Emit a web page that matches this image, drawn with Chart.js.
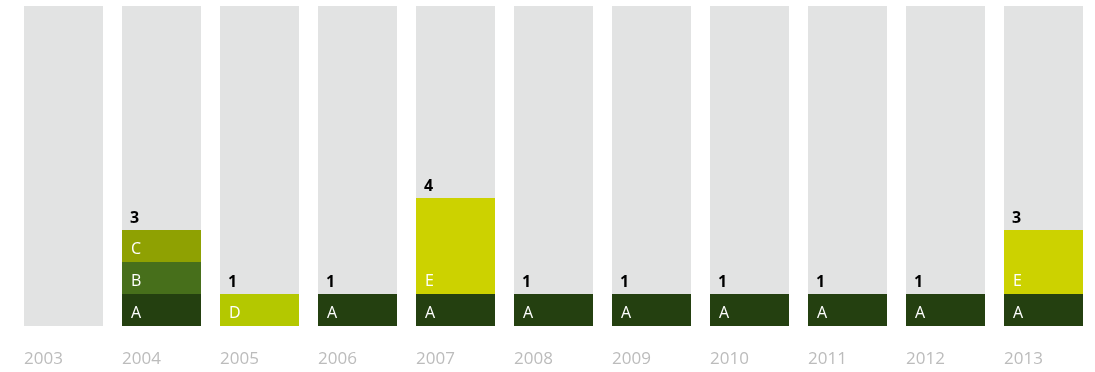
<!DOCTYPE html>
<html>
<head>
<meta charset="utf-8">
<script src="https://cdn.jsdelivr.net/npm/chart.js@4/dist/chart.umd.min.js"></script>
<style>
  html, body { margin: 0; padding: 0; background: #fff; }
  #wrap { width: 1095px; height: 372px; }
</style>
</head>
<body>
<div id="wrap"><canvas id="myChart"></canvas></div>
<script>
const years = ['2003', '2004', '2005', '2006', '2007', '2008', '2009', '2010', '2011', '2012', '2013'];
const seriesA = [0, 1, 0, 1, 1, 1, 1, 1, 1, 1, 1];
const seriesB = [0, 1, 0, 0, 0, 0, 0, 0, 0, 0, 0];
const seriesC = [0, 1, 0, 0, 0, 0, 0, 0, 0, 0, 0];
const seriesD = [0, 0, 1, 0, 0, 0, 0, 0, 0, 0, 0];
const seriesE = [0, 0, 0, 0, 3, 0, 0, 0, 0, 0, 2];
const trackMax = 10;

const segments = [
    { label: 'A', data: seriesA, color: '#244010' },
    { label: 'B', data: seriesB, color: '#476f1b' },
    { label: 'C', data: seriesC, color: '#8fa102' },
    { label: 'D', data: seriesD, color: '#b4c800' },
    { label: 'E', data: seriesE, color: '#ccd200' }
];

const FONT = "'Open Sans', 'DejaVu Sans', sans-serif";

// letters inside each segment, total above each column, year under it (left-aligned)
const barLabels = {
    id: 'barLabels',
    afterDatasetsDraw(chart) {
        const ctx = chart.ctx;
        const bottom = chart.chartArea.bottom;
        ctx.save();
        ctx.textAlign = 'left';
        ctx.textBaseline = 'alphabetic';

        const track = chart.getDatasetMeta(0);
        ctx.fillStyle = '#bcbcbc';
        ctx.font = '17px ' + FONT;
        track.data.forEach((bar, j) => {
            ctx.fillText(years[j], bar.x - bar.width / 2, bottom + 38);
        });

        const tops = [];
        chart.data.datasets.forEach((ds, i) => {
            if (ds.stack !== 'main') return;
            const meta = chart.getDatasetMeta(i);
            meta.data.forEach((bar, j) => {
                if (!ds.data[j]) return;
                const left = bar.x - bar.width / 2;
                ctx.fillStyle = '#ffffff';
                ctx.font = '16px ' + FONT;
                ctx.fillText(ds.label, left + 9, bar.base - 8);
                if (tops[j] === undefined || bar.y < tops[j].y) tops[j] = { y: bar.y, left: left };
            });
        });
        years.forEach((yr, j) => {
            const total = segments.reduce((s, seg) => s + seg.data[j], 0);
            if (!total || !tops[j]) return;
            ctx.fillStyle = '#000000';
            ctx.font = 'bold 16px ' + FONT;
            ctx.fillText(String(total), tops[j].left + 8, tops[j].y - 7);
        });
        ctx.restore();
    }
};

let ctx = document.getElementById('myChart');
let myChart = new Chart(ctx, {
    type: 'bar',
    data: {
        labels: years,
        datasets: [
            {
                label: 'track',
                data: years.map(() => trackMax),
                backgroundColor: '#e2e3e3',
                stack: 'bg',
                grouped: false,
                order: 1
            }
        ].concat(segments.map(seg => ({
            label: seg.label,
            data: seg.data,
            backgroundColor: seg.color,
            stack: 'main',
            order: 0
        })))
    },
    options: {
        responsive: true,
        maintainAspectRatio: false,
        animation: false,
        datasets: {
            bar: {
                categoryPercentage: 1,
                barPercentage: 79 / 98,
                borderWidth: 0
            }
        },
        layout: { padding: { left: 14.5, right: 2.5, top: 6, bottom: 46 } },
        plugins: {
            legend: { display: false },
            tooltip: { enabled: false }
        },
        scales: {
            x: {
                display: false
            },
            y: {
                display: false,
                stacked: true,
                min: 0,
                max: trackMax
            }
        }
    },
    plugins: [barLabels]
});
</script>
</body>
</html>
